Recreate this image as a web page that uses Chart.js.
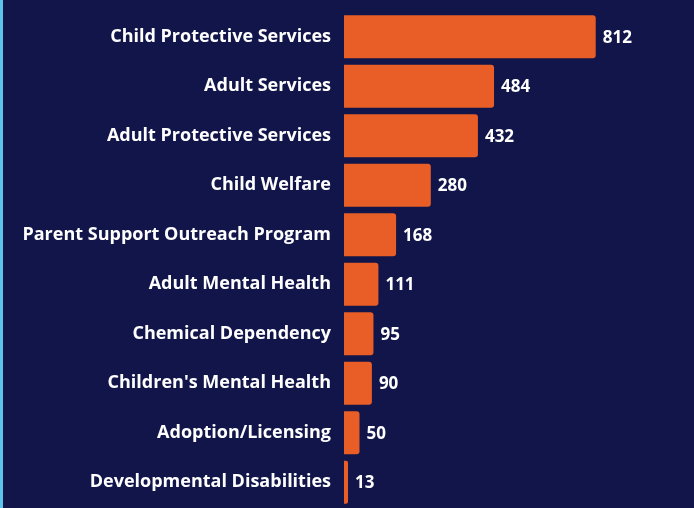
<!DOCTYPE html>
<html>
<head>
<meta charset="utf-8">
<script src="https://cdn.jsdelivr.net/npm/chart.js@4"></script>
<style>
  html, body { margin: 0; padding: 0; background: #11154a; }
  #wrap { position: relative; width: 694px; height: 508px; }
  #strip { position: absolute; left: 0; top: 0; width: 3px; height: 508px; background: #5cc3ea; }
</style>
</head>
<body>
<div id="wrap">
  <canvas id="c" width="694" height="508"></canvas>
  <div id="strip"></div>
</div>
<script>
const categories = [
  "Child Protective Services",
  "Adult Services",
  "Adult Protective Services",
  "Child Welfare",
  "Parent Support Outreach Program",
  "Adult Mental Health",
  "Chemical Dependency",
  "Children's Mental Health",
  "Adoption/Licensing",
  "Developmental Disabilities"
];
const values = [812, 484, 432, 280, 168, 111, 95, 90, 50, 13];

const bgPlugin = {
  id: 'bg',
  beforeDraw(chart) {
    const ctx = chart.ctx;
    ctx.save();
    ctx.fillStyle = '#11154a';
    ctx.fillRect(0, 0, chart.width, chart.height);
    ctx.restore();
  }
};

const valueLabels = {
  id: 'valueLabels',
  afterDatasetsDraw(chart) {
    const ctx = chart.ctx;
    const meta = chart.getDatasetMeta(0);
    ctx.save();
    ctx.fillStyle = '#ffffff';
    ctx.font = '700 17px "Open Sans"';
    ctx.textAlign = 'left';
    ctx.textBaseline = 'middle';
    meta.data.forEach((bar, i) => {
      ctx.fillText(String(values[i]), bar.x + 7, bar.y + 1);
    });
    ctx.restore();
  }
};

new Chart(document.getElementById('c'), {
  type: 'bar',
  data: {
    labels: categories,
    datasets: [{
      data: values,
      backgroundColor: '#e95d26',
      borderRadius: { topRight: 3, bottomRight: 3, topLeft: 0, bottomLeft: 0 },
      borderSkipped: false,
      categoryPercentage: 1,
      barPercentage: 0.87
    }]
  },
  options: {
    indexAxis: 'y',
    responsive: false,
    animation: false,
    devicePixelRatio: 1,
    layout: { padding: { top: 12, bottom: 1, left: 0, right: 40 } },
    plugins: { legend: { display: false }, tooltip: { enabled: false } },
    scales: {
      x: { display: false, min: 0, max: 1000 },
      y: {
        grid: { display: false, drawTicks: false },
        border: { display: false },
        ticks: {
          color: '#ffffff',
          padding: 13,
          font: { family: 'Open Sans', weight: '700', size: 18 }
        },
        afterFit(scale) {
          scale.width = 344;
          scale.paddingTop = 0;
          scale.paddingBottom = 0;
        }
      }
    }
  },
  plugins: [bgPlugin, valueLabels]
});
</script>
</body>
</html>
